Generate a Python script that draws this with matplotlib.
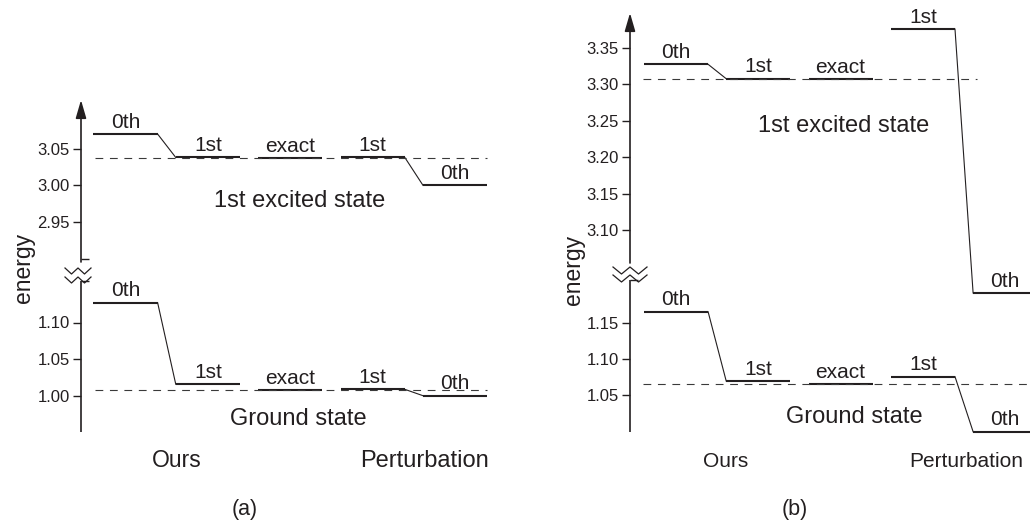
import matplotlib
matplotlib.use('Agg')
import matplotlib.pyplot as plt
import matplotlib.transforms as mtransforms

plt.rcParams['font.family'] = ['Liberation Sans', 'DejaVu Sans']

W, H = 1030, 523

# ---------------- data ----------------
columns = ['Ours 0th', 'Ours 1st', 'exact', 'Perturbation 1st', 'Perturbation 0th']
level_labels = ['0th', '1st', 'exact', '1st', '0th']
connected_pairs = [(0, 1), (3, 4)]
exact_index = 2

# panel (a)
a_excited = [3.070, 3.038, 3.037, 3.038, 3.000]
a_ground = [1.127, 1.0156, 1.0076, 1.0087, 1.000]
a_upper_ticks = [2.95, 3.00, 3.05]
a_lower_ticks = [1.00, 1.05, 1.10]

# panel (b)
b_excited = [3.3276, 3.3078, 3.3070, 3.376, 3.0135]
b_ground = [1.1648, 1.0696, 1.0650, 1.0756, 1.000]
b_upper_ticks = [3.10, 3.15, 3.20, 3.25, 3.30, 3.35]
b_lower_ticks = [1.05, 1.10, 1.15]

state_names = ['1st excited state', 'Ground state']
method_names = ['Ours', 'Perturbation']

# ---------------- layout ----------------
INK = '#231f20'
fig = plt.figure(figsize=(W / 100, H / 100), dpi=100)
fig.patch.set_facecolor('white')
PX = mtransforms.Affine2D().scale(1 / W, -1 / H).translate(0, 1) + fig.transFigure

cfg_a = dict(box=(81, 95, 500, 440), ppu=732.0, lower_anchor=(1.00, 395.7),
             upper_anchor=(3.00, 185.3), col0=125.5, dcol=82.4, hw=0.39,
             lower_spine=(431.7, 281), upper_spine=(262, 100),
             caps_upper=[2.90], caps_lower_px=[281],
             zig=dict(x0=65, x1=91, y1=268, y2=277, amp=6),
             dash_exc=(-0.37, 4.39), dash_gnd=(-0.37, 4.39),
             energy=(23, 268), energy_fs=16.5,
             exc_text=(300, 207), gnd_text=(298, 425), state_fs=17,
             methods=[(177, 467, 16.5), (424, 467, 17)],
             tag=('(a)', 244.5, 509), tag_fs=15.5,
             label_fs=15, tick_fs=12)

cfg_b = dict(box=(630, 8, 1030, 440), ppu=728.0, lower_anchor=(1.05, 395.3),
             upper_anchor=(3.10, 230.0), col0=676.0, dcol=82.3, hw=0.39,
             lower_spine=(431.7, 280), upper_spine=(263, 13),
             caps_upper=[], caps_lower_px=[280],
             zig=dict(x0=613, x1=647, y1=267, y2=275, amp=7),
             dash_exc=(-0.40, 3.66), dash_gnd=(-0.40, 4.6),
             energy=(573, 270), energy_fs=16.5,
             exc_text=(843.5, 131.7), gnd_text=(854.5, 422.7), state_fs=17,
             methods=[(725.5, 467, 15), (966.5, 467, 15)],
             tag=('(b)', 794.5, 509), tag_fs=15.5,
             label_fs=15, tick_fs=12)


def draw_panel(cfg, excited, ground, upper_ticks, lower_ticks):
    l, t, r, b = cfg['box']
    ax = fig.add_axes([l / W, 1 - b / H, (r - l) / W, (b - t) / H])
    k = cfg['ppu']
    v0, p0 = cfg['lower_anchor']

    def disp(py):
        return v0 + (p0 - py) / k

    c0, dc = cfg['col0'], cfg['dcol']
    ax.set_xlim((l - c0) / dc, (r - c0) / dc)
    ax.set_ylim(disp(b), disp(t))
    uv, up = cfg['upper_anchor']
    shift = uv - disp(up)
    tr_up = mtransforms.Affine2D().translate(0, -shift) + ax.transData
    tr_lo = ax.transData
    for s in ax.spines.values():
        s.set_visible(False)
    ax.patch.set_visible(False)
    hw = cfg['hw']

    for values, tr, dash in ((excited, tr_up, cfg['dash_exc']),
                             (ground, tr_lo, cfg['dash_gnd'])):
        # reference (exact) dashed line
        ax.plot(list(dash), [values[exact_index]] * 2, transform=tr,
                color='#3a3a3a', lw=0.8, ls=(0, (7, 6)), zorder=3)
        for i, v in enumerate(values):
            ax.plot([i - hw, i + hw], [v, v], transform=tr, color=INK,
                    lw=1.5, solid_capstyle='butt', zorder=2)
            ax.annotate(level_labels[i], xy=(i, v), xycoords=tr,
                        xytext=(0, 4.5), textcoords='offset points',
                        ha='center', va='baseline', fontsize=cfg['label_fs'],
                        color=INK)
        for i0, i1 in connected_pairs:
            ax.plot([i0 + hw, i1 - hw], [values[i0], values[i1]],
                    transform=tr, color=INK, lw=0.8, zorder=2)

    # y ticks on the broken axis
    pos = list(lower_ticks) + [u - shift for u in upper_ticks]
    labs = ['%.2f' % v for v in lower_ticks] + ['%.2f' % v for v in upper_ticks]
    ax.set_yticks(pos)
    ax.set_yticklabels(labs)
    minor = [c - shift for c in cfg['caps_upper']] + [disp(p) for p in cfg['caps_lower_px']]
    ax.set_yticks(minor, minor=True)
    ax.tick_params(axis='y', which='major', direction='out', length=6,
                   width=1.0, labelsize=cfg['tick_fs'], pad=2,
                   color=INK, labelcolor=INK)
    ax.tick_params(axis='y', which='minor', direction='in', length=6,
                   width=1.0, color=INK)
    ax.set_xticks([])

    # axis line segments
    ytr = ax.get_yaxis_transform()
    lo0, lo1 = cfg['lower_spine']
    ax.plot([0, 0], [disp(lo0), disp(lo1)], transform=ytr, color=INK,
            lw=1.2, clip_on=False, solid_capstyle='butt')
    u0, u1 = cfg['upper_spine']
    ax.annotate('', xy=(0, disp(u1)), xytext=(0, disp(u0)), xycoords=ytr,
                arrowprops=dict(arrowstyle='-|>,head_length=1.1,head_width=0.32',
                                lw=1.2, color=INK, shrinkA=0, shrinkB=0),
                annotation_clip=False)

    # break marks
    z = cfg['zig']
    xs = [z['x0'] + (z['x1'] - z['x0']) * f for f in (0, 0.25, 0.5, 0.75, 1.0)]
    for yy in (z['y1'], z['y2']):
        ys = [yy, yy + z['amp'], yy, yy + z['amp'], yy]
        fig.add_artist(plt.Line2D(xs, ys, transform=PX, color=INK, lw=0.9))

    # texts
    fig.text(cfg['energy'][0] / W, 1 - cfg['energy'][1] / H, 'energy',
             rotation=90, ha='center', va='center',
             fontsize=cfg['energy_fs'], color=INK)
    fig.text(cfg['exc_text'][0] / W, 1 - cfg['exc_text'][1] / H, state_names[0],
             ha='center', va='baseline', fontsize=cfg['state_fs'], color=INK)
    fig.text(cfg['gnd_text'][0] / W, 1 - cfg['gnd_text'][1] / H, state_names[1],
             ha='center', va='baseline', fontsize=cfg['state_fs'], color=INK)
    for name, (mx, my, fs) in zip(method_names, cfg['methods']):
        fig.text(mx / W, 1 - my / H, name, ha='center', va='baseline',
                 fontsize=fs, color=INK)
    tg, tx, ty = cfg['tag']
    fig.text(tx / W, 1 - ty / H, tg, ha='center', va='center',
             fontsize=cfg['tag_fs'], color=INK)
    return ax


draw_panel(cfg_a, a_excited, a_ground, a_upper_ticks, a_lower_ticks)
draw_panel(cfg_b, b_excited, b_ground, b_upper_ticks, b_lower_ticks)

fig.savefig('out.png', dpi=100, facecolor='white')
